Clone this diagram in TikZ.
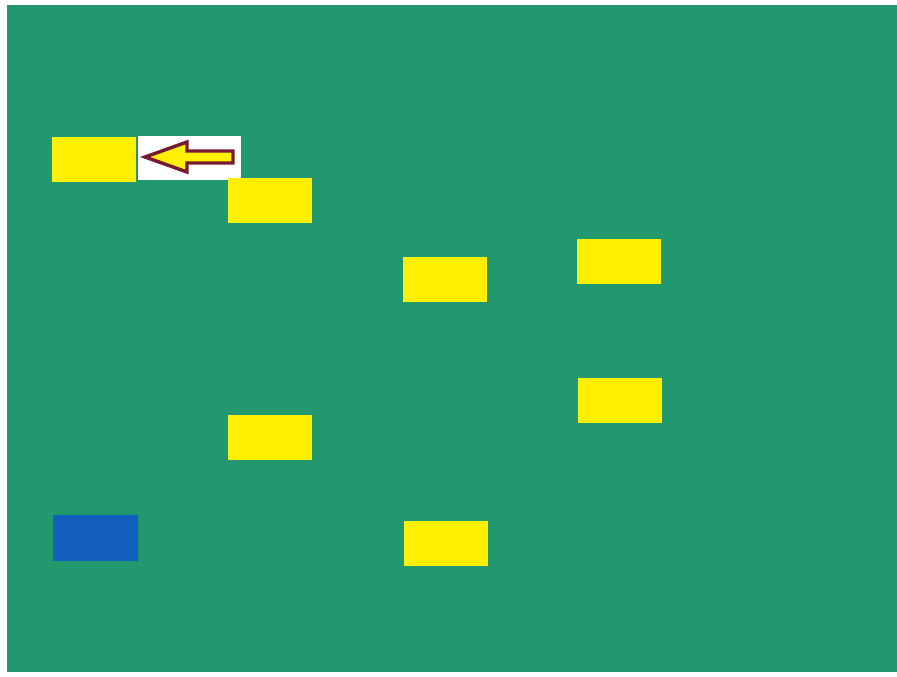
\documentclass[tikz,border=0pt]{standalone}
\usetikzlibrary{calc}
\definecolor{boardgreen}{RGB}{34,152,110}
\definecolor{stickyyellow}{RGB}{255,240,0}
\definecolor{cardblue}{RGB}{20,95,190}
\definecolor{arrowred}{RGB}{120,25,50}
\tikzset{
  card/.style={fill=stickyyellow, draw=none, minimum width=84pt, minimum height=45pt, inner sep=0pt, anchor=north west},
  bluecard/.style={fill=cardblue, draw=none, minimum width=85pt, minimum height=46pt, inner sep=0pt, anchor=north west},
  labelcard/.style={fill=white, draw=none, minimum width=103pt, minimum height=44pt, inner sep=0pt, anchor=north west},
  pointer/.style={fill=stickyyellow, draw=arrowred, line width=3.4pt, line join=miter}
}
\begin{document}
\begin{tikzpicture}[x=1pt,y=-1pt]
\useasboundingbox (0,0) rectangle (897,677);
\fill[white] (0,0) rectangle (897,677);
\fill[boardgreen] (7,5) rectangle (897,672);
\node[card] (a) at (52,137) {};
\node[labelcard] (w) at (138,136) {};
\node[card] (b) at (228,178) {};
\node[card] (c) at (403,257) {};
\node[card] (d) at (577,239) {};
\node[card] (e) at (578,378) {};
\node[card] (f) at (228,415) {};
\node[card] (g) at (404,521) {};
\node[bluecard] (s) at (53,515) {};
\coordinate (tip) at (145,157);
\draw[pointer] (tip) -- (187,142) -- (187,151) -- (233,151) -- (233,163) -- (187,163) -- (187,172) -- cycle;
\end{tikzpicture}
\end{document}
